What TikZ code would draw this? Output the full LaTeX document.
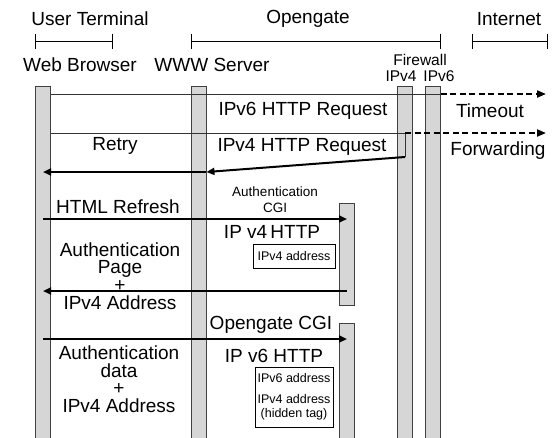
\documentclass[tikz,border=0pt]{standalone}
\usepackage{fontspec}
\setmainfont{Liberation Sans}
\usetikzlibrary{arrows.meta}

\begin{document}
\begin{tikzpicture}[
    x=1pt, y=-1pt,
    lifebar/.style={rectangle, draw=black!75, fill=black!16, line width=0.9pt,
                    minimum width=15pt, minimum height=360pt, anchor=north,
                    inner sep=0pt},
    lbl/.style={font=\fontsize{19}{17.6}\selectfont, align=center, inner sep=0pt},
    fwlbl/.style={font=\fontsize{15.5}{16}\selectfont, align=center, inner sep=0pt},
    small/.style={font=\fontsize{13.5}{16}\selectfont, align=center, inner sep=0pt},
    addrbox/.style={draw, line width=0.7pt, fill=white, align=center,
                    font=\fontsize{12.5}{14}\selectfont, inner sep=0pt},
    bracket/.style={line width=1pt, {Bar[width=15pt]}-{Bar[width=15pt]}},
    thinline/.style={line width=1pt, draw=black!80},
    msg/.style={-{Triangle[length=8pt,width=7pt]}, line width=2pt},
    fwd/.style={-{Triangle[length=9pt,width=7pt]}, line width=2pt,
                dash pattern=on 6pt off 3.5pt},
]
\useasboundingbox (0,0) rectangle (553,437);
\clip (0,0) rectangle (553,437);

% headings and their extent
\node[lbl] (hUT)  at (90,19)  {User Terminal};
\node[lbl] (hOG)  at (308,19) {Opengate};
\node[lbl] (hNet) at (509,19) {Internet};
\coordinate (utL) at (35,41);  \coordinate (utR) at (113,41);
\coordinate (ogL) at (191,41); \coordinate (ogR) at (441,41);
\coordinate (inL) at (472,41); \coordinate (inR) at (548,41);
\draw[bracket] (utL) -- (utR);
\draw[bracket] (ogL) -- (ogR);
\draw[bracket] (inL) -- (inR);

\node[lbl]   (lWB)  at (80,65)  {Web Browser};
\node[lbl]   (lSrv) at (212,65) {WWW Server};
\node[fwlbl] (lFw)  at (420,68) {Firewall\\IPv4\hspace{0.45em}IPv6};

% lifelines
\node[lifebar] (wb)  at (43,86)    {};
\node[lifebar] (srv) at (198.5,86) {};
\node[lifebar] (fw4) at (405,86)   {};
\node[lifebar] (fw6) at (433,86)   {};
\node[lifebar, minimum height=102pt] (cgi1) at (347,203) {};
\node[lifebar, minimum height=130pt] (cgi2) at (347,323) {};

\coordinate (net1) at (546,94);
\coordinate (net2) at (546,133);

% IPv6 attempt times out, IPv4 attempt is forwarded
\draw[thinline] (wb.east |- 0,94) -- (fw6.east |- 0,94);
\draw[fwd] (fw6.east |- 0,94) -- (net1);
\draw[thinline] (wb.east |- 0,133) -- (fw4.center |- 0,133) -- (fw4.center |- 0,157);
\draw[fwd] (fw4.center |- 0,133) -- (net2);
\draw[msg] (fw4.center |- 0,157) -- (srv.east |- 0,172);
\draw[msg] (srv.east |- 0,172) -- (wb.center |- 0,172);

\node[lbl] (lReq6) at (303,111) {IPv6 HTTP Request};
\node[lbl] (lTo)   at (490,111) {Timeout};
\node[lbl] (lReq4) at (302,147) {IPv4 HTTP Request};
\node[lbl] (lFwd)  at (498,151) {Forwarding};
\node[lbl] (lRet)  at (115,146) {Retry};

% authentication CGI over IPv4
\draw[msg] (wb.center |- 0,219) -- (cgi1.center |- 0,219);
\draw[msg] (cgi1.center |- 0,291) -- (wb.center |- 0,291);

\node[lbl]   (lRef)  at (118,207) {HTML Refresh};
\node[small] (lCgi1) at (275,200) {Authentication\\CGI};
\node[lbl]   (lH4)   at (272,232) {IP {\rmfamily v4}\,HTTP};
\node[addrbox, minimum width=82pt, minimum height=24pt] (box4) at (294,256) {IPv4 address};
\node[lbl]   (lPage) at (120,276) {Authentication\\Page\\+\\IPv4 Address};

% opengate CGI over IPv6
\draw[msg] (wb.center |- 0,339) -- (cgi2.center |- 0,339);

\node[lbl]   (lCgi2) at (271,325) {Opengate CGI};
\node[lbl]   (lH6)   at (274,356) {IP {\rmfamily v6} HTTP};
\node[addrbox, minimum width=78pt, minimum height=60pt] (box6) at (294,397)
     {IPv6 address\\[7pt]IPv4 address\\(hidden tag)};
\node[lbl]   (lData) at (119,379) {Authentication\\data\\+\\IPv4 Address};

\end{tikzpicture}
\end{document}
